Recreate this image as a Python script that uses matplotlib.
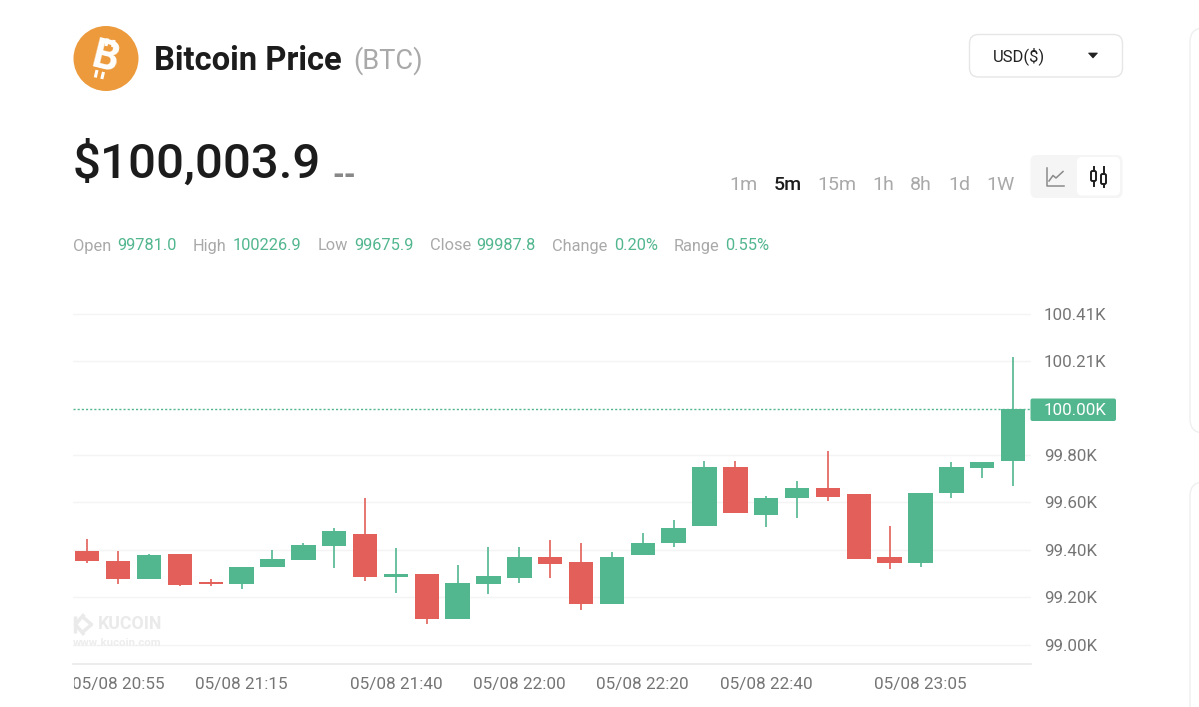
import matplotlib
matplotlib.use('Agg')
import matplotlib.pyplot as plt
from matplotlib.patches import Circle, FancyBboxPatch, Polygon
from matplotlib.transforms import Bbox

plt.rcParams['font.family'] = ['Roboto', 'DejaVu Sans']

# candles, one every 5 minutes
opens = [99399, 99357, 99279, 99388, 99265, 99259, 99329, 99360, 99420, 99471, 99287,
         99300, 99109, 99259, 99286, 99374, 99351, 99172, 99384, 99434, 99505, 99756,
         99553, 99625, 99668, 99640, 99374, 99347, 99647, 99752, 99781]
closes = [99356, 99279, 99382, 99253, 99258, 99330, 99363, 99424, 99485, 99287, 99302,
          99109, 99263, 99293, 99374, 99343, 99172, 99374, 99435, 99496, 99756, 99560,
          99624, 99668, 99629, 99367, 99347, 99648, 99756, 99776, 100003.9]
highs = [99452, 99399, 99388, 99388, 99280, 99333, 99404, 99434, 99495, 99624, 99412,
         99300, 99339, 99415, 99415, 99448, 99435, 99394, 99476, 99529, 99782, 99782,
         99632, 99696, 99823, 99642, 99505, 99648, 99776, 99776, 100226.9]
lows = [99346, 99258, 99279, 99248, 99252, 99239, 99329, 99360, 99326, 99273, 99221,
        99087, 99109, 99216, 99262, 99282, 99148, 99172, 99381, 99415, 99505, 99560,
        99500, 99539, 99614, 99367, 99322, 99331, 99623, 99708, 99675.9]

y_ticks = [99000, 99203, 99405, 99606, 99807, 100210, 100410]
y_labels = ['99.00K', '99.20K', '99.40K', '99.60K', '99.80K', '100.21K', '100.41K']
x_ticks = [1, 5, 10, 14, 18, 22, 27]
x_labels = ['05/08 20:55', '05/08 21:15', '05/08 21:40', '05/08 22:00',
            '05/08 22:20', '05/08 22:40', '05/08 23:05']
last_price = 100003.9
last_label = '100.00K'

stat_names = ['Open', 'High', 'Low', 'Close', 'Change', 'Range']
stat_values = ['99781.0', '100226.9', '99675.9', '99987.8', '0.20%', '0.55%']
stat_name_x = [73, 193, 318, 430, 552, 674]
stat_value_x = [117, 233, 354, 476, 614, 725]

periods = ['1m', '5m', '15m', '1h', '8h', '1d', '1W']
period_x = [729, 774, 817, 872, 910, 948, 986]

GREEN = '#52B68F'
RED = '#E35F59'
GRAY = '#A9A9A9'
DARK = '#1C1C1C'
WMARK = '#EAEAEA'
W, H = 1199, 707

fig = plt.figure(figsize=(W / 100, H / 100), dpi=100)

# page furniture, drawn in pixel coordinates
ui = fig.add_axes([0, 0, 1, 1])
ui.set_xlim(0, W)
ui.set_ylim(H, 0)
ui.axis('off')

# logo: tilted B with the four little bars
ui.add_patch(Circle((106, 58.5), 32.5, color='#EC9A3C', lw=0))
ui.text(105.5, 58.5, 'B', color='white', fontsize=30, fontweight='bold', rotation=-14,
        ha='center', va='center', rotation_mode='anchor')
for x0, y0, x1, y1 in [(106, 46, 107.7, 38.5), (112.5, 47, 114.2, 40),
                       (97, 70, 95.3, 77.5), (103.5, 72, 101.8, 79)]:
    ui.plot([x0, x1], [y0, y1], color='white', lw=2.2, solid_capstyle='butt')

ui.text(154, 69.5, 'Bitcoin Price', color=DARK, fontsize=23.6, fontweight='bold', va='baseline')
ui.text(353, 68.5, '(BTC)', color=GRAY, fontsize=19.6, va='baseline')
ui.text(72.5, 178, '$100,003.9', color=DARK, fontsize=35.5, fontweight='medium', va='baseline')
ui.text(332, 185, '--', color='#888888', fontsize=22, fontweight='bold', va='baseline')

# currency selector
ui.add_patch(FancyBboxPatch((969.5, 34.5), 153, 42.5, boxstyle='round,pad=0,rounding_size=9',
                            fc='white', ec='#E6E6E6', lw=1))
ui.text(993, 61.5, 'USD($)', color='#222222', fontsize=12, va='baseline')
ui.add_patch(Polygon([(1088.5, 53), (1097.5, 53), (1093, 58)], closed=True, fc='#222222', ec='#222222', lw=0.5))

# time frames
for name, px in zip(periods, period_x):
    active = name == '5m'
    ui.text(px, 190, name, color=DARK if active else GRAY, fontsize=14,
            fontweight='medium' if active else 'normal', va='baseline')

# chart type switch
ui.add_patch(FancyBboxPatch((1030.5, 155), 92, 43, boxstyle='round,pad=0,rounding_size=6', fc='#F5F5F5', ec='none'))
ui.add_patch(FancyBboxPatch((1077, 157), 43, 38.5, boxstyle='round,pad=0,rounding_size=5', fc='white', ec='none'))
ui.plot([1046.5, 1046.5, 1064], [168, 185.5, 185.5], color='#8A8A8A', lw=1.1)
ui.plot([1049, 1053, 1056, 1063], [181, 175.5, 178, 171.5], color='#8A8A8A', lw=1.1)
for cx, by0, by1, wy0, wy1 in [(1093.5, 171, 181, 167, 186), (1103.5, 174, 184, 167, 187)]:
    ui.plot([cx, cx], [wy0, wy1], color='#1E1E1E', lw=1.4)
    ui.add_patch(FancyBboxPatch((cx - 2.5, by0), 5, by1 - by0, boxstyle='round,pad=0,rounding_size=1.5',
                                fc='white', ec='#1E1E1E', lw=1.4, zorder=3))

# stats row
for name, nx, val, vx in zip(stat_names, stat_name_x, stat_values, stat_value_x):
    ui.text(nx, 250.5, name, color=GRAY, fontsize=11.8, va='baseline')
    ui.text(vx, 250.5, val, color=GREEN, fontsize=11.8, va='baseline')

# neighbouring cards, cut off by the screenshot edge
ui.add_patch(FancyBboxPatch((1190, 28), 60, 405, boxstyle='round,pad=0,rounding_size=14', fc='white', ec='#EFEFEF', lw=1))
ui.add_patch(FancyBboxPatch((1190, 482), 60, 300, boxstyle='round,pad=0,rounding_size=14', fc='white', ec='#EFEFEF', lw=1))

# price tag on the axis
ui.add_patch(FancyBboxPatch((1030.5, 398.5), 85.5, 22.5, boxstyle='round,pad=0,rounding_size=2', fc=GREEN, ec='none'))

# watermark logo
ui.plot([75, 75], [616, 633], color=WMARK, lw=2.5, solid_capstyle='butt')
ui.plot([83, 75.5, 83], [615.5, 624.5, 633.5], color=WMARK, lw=2.5)
ui.plot([84, 91.5, 84], [618, 624.5, 631], color=WMARK, lw=2.5)

# chart
ax = fig.add_axes([73 / W, 1 - 663.5 / H, (1031 - 73) / W, (663.5 - 300) / H])
ax.patch.set_alpha(0)
x = list(range(len(opens)))
colors = [GREEN if c >= o else RED for o, c in zip(opens, closes)]
body_low = [min(o, c) for o, c in zip(opens, closes)]
body_size = [abs(c - o) for o, c in zip(opens, closes)]

ax.vlines(x, lows, highs, colors=colors, lw=1.2, zorder=3)
ax.bar(x, body_size, bottom=body_low, width=0.79, color=colors, zorder=4)
ax.axhline(last_price, color=GREEN, lw=1, ls=(0, (1.5, 1.5)), zorder=2)

ax.set_xlim(-0.463, 30.58)
ax.set_ylim(98920, 100468)
ax.set_yticks(y_ticks, y_labels)
ax.set_xticks(x_ticks, x_labels)
ax.yaxis.tick_right()
ax.tick_params(axis='y', length=0, pad=9.2, labelsize=12.2, labelcolor='#757575')
ax.tick_params(axis='x', length=0, pad=10, labelsize=12.3, labelcolor='#757575')
ax.grid(axis='y', color='#F4F4F4', lw=1)
ax.set_axisbelow(True)
for side in ['top', 'left', 'right']:
    ax.spines[side].set_visible(False)
ax.spines['bottom'].set_color('#E9E9E9')
ax.spines['bottom'].set_linewidth(1.2)

# first date label is cut at the plot edge
first = ax.get_xticklabels()[0]
first.set_clip_on(True)
first.set_clip_box(Bbox([[74, 0], [W, H]]))

ax.text(1.0136, 99998, last_label, color='white', fontsize=12.2, va='center',
        transform=ax.get_yaxis_transform(), clip_on=False)

# watermark text
ax.text(0.026, 99088, 'KUCOIN', color=WMARK, fontsize=12.8, fontweight='bold',
        transform=ax.get_yaxis_transform(), va='center')
ax.text(0.0, 99007, 'www.kucoin.com', color='#EDEDED', fontsize=8.2, fontweight='bold',
        transform=ax.get_yaxis_transform(), va='center')

fig.savefig('out.png', dpi=100)
